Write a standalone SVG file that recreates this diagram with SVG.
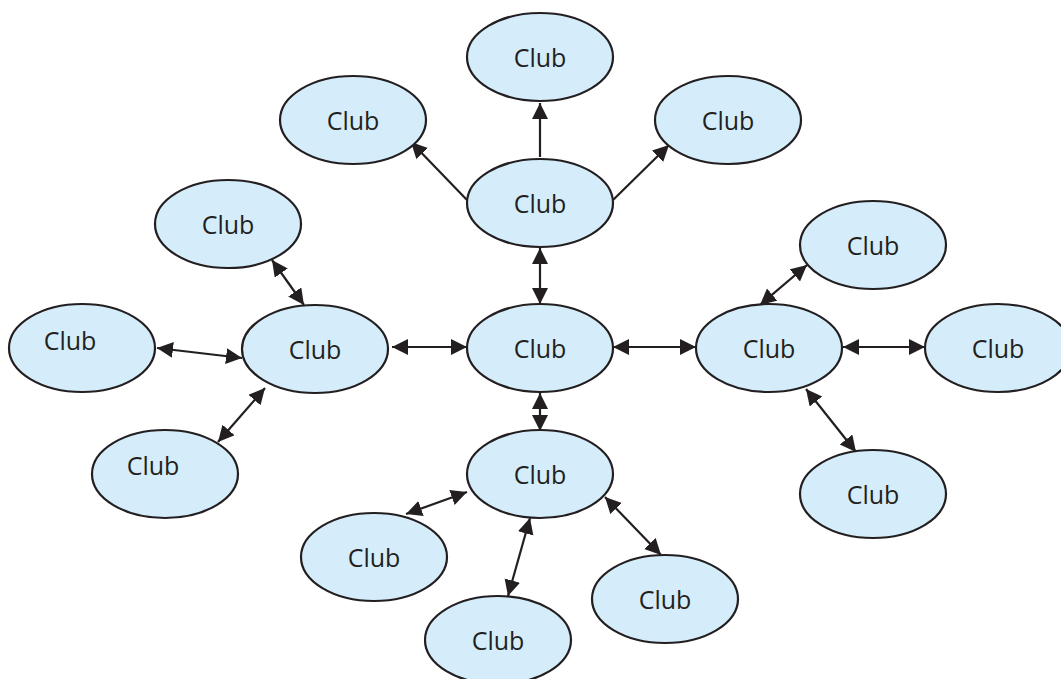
<svg xmlns="http://www.w3.org/2000/svg" width="1061" height="679" viewBox="0 0 1061 679">
<style>
.n ellipse{fill:#d5edfa;stroke:#231f20;stroke-width:2.2}
.n text{font-family:"Open Sans","Noto Sans","Liberation Sans",sans-serif;font-size:25px;fill:#231f20;text-anchor:middle}
#edges line{stroke:#231f20;stroke-width:2.2}
</style>
<defs>
<marker id="a" markerUnits="userSpaceOnUse" markerWidth="18" markerHeight="18" refX="16" refY="8" orient="auto-start-reverse">
<path d="M0,0 L16,8 L0,16 z" fill="#231f20"/>
</marker>
</defs>
<rect width="1061" height="679" fill="#fff"/>
<g id="edges">
<line x1="540" y1="157" x2="540" y2="103" marker-end="url(#a)"/>
<line x1="467" y1="200" x2="411" y2="142" marker-end="url(#a)"/>
<line x1="613" y1="200" x2="669" y2="145" marker-end="url(#a)"/>
<line x1="540" y1="248" x2="540" y2="304" marker-start="url(#a)" marker-end="url(#a)"/>
<line x1="392" y1="347" x2="467" y2="347" marker-start="url(#a)" marker-end="url(#a)"/>
<line x1="613" y1="347" x2="696" y2="347" marker-start="url(#a)" marker-end="url(#a)"/>
<line x1="540" y1="393" x2="540" y2="431" marker-start="url(#a)" marker-end="url(#a)"/>
<line x1="272" y1="260" x2="304" y2="305" marker-start="url(#a)" marker-end="url(#a)"/>
<line x1="157" y1="348" x2="242" y2="358" marker-start="url(#a)" marker-end="url(#a)"/>
<line x1="265" y1="388" x2="218" y2="442" marker-start="url(#a)" marker-end="url(#a)"/>
<line x1="807" y1="265" x2="760" y2="305" marker-start="url(#a)" marker-end="url(#a)"/>
<line x1="843" y1="347" x2="925" y2="347" marker-start="url(#a)" marker-end="url(#a)"/>
<line x1="806" y1="389" x2="856" y2="452" marker-start="url(#a)" marker-end="url(#a)"/>
<line x1="467" y1="492" x2="406" y2="514" marker-start="url(#a)" marker-end="url(#a)"/>
<line x1="530" y1="518" x2="508" y2="596" marker-start="url(#a)" marker-end="url(#a)"/>
<line x1="605" y1="497" x2="661" y2="555" marker-start="url(#a)" marker-end="url(#a)"/>
</g>
<g id="n1" class="n"><ellipse cx="540" cy="57" rx="73" ry="44"/><text x="540" y="67">Club</text></g>
<g id="n2" class="n"><ellipse cx="353" cy="120" rx="73" ry="44"/><text x="353" y="130">Club</text></g>
<g id="n3" class="n"><ellipse cx="728" cy="120" rx="73" ry="44"/><text x="728" y="130">Club</text></g>
<g id="n4" class="n"><ellipse cx="540" cy="203" rx="73" ry="44"/><text x="540" y="213">Club</text></g>
<g id="n5" class="n"><ellipse cx="540" cy="348" rx="73" ry="44"/><text x="540" y="358">Club</text></g>
<g id="n6" class="n"><ellipse cx="315" cy="349" rx="73" ry="44"/><text x="315" y="359">Club</text></g>
<g id="n7" class="n"><ellipse cx="228" cy="224" rx="73" ry="44"/><text x="228" y="234">Club</text></g>
<g id="n8" class="n"><ellipse cx="82" cy="348" rx="73" ry="44"/><text x="70" y="350">Club</text></g>
<g id="n9" class="n"><ellipse cx="165" cy="474" rx="73" ry="44"/><text x="153" y="475">Club</text></g>
<g id="n10" class="n"><ellipse cx="769" cy="348" rx="73" ry="44"/><text x="769" y="358">Club</text></g>
<g id="n11" class="n"><ellipse cx="873" cy="245" rx="73" ry="44"/><text x="873" y="255">Club</text></g>
<g id="n12" class="n"><ellipse cx="998" cy="348" rx="73" ry="44"/><text x="998" y="358">Club</text></g>
<g id="n13" class="n"><ellipse cx="873" cy="494" rx="73" ry="44"/><text x="873" y="504">Club</text></g>
<g id="n14" class="n"><ellipse cx="540" cy="474" rx="73" ry="44"/><text x="540" y="484">Club</text></g>
<g id="n15" class="n"><ellipse cx="374" cy="557" rx="73" ry="44"/><text x="374" y="567">Club</text></g>
<g id="n16" class="n"><ellipse cx="498" cy="640" rx="73" ry="44"/><text x="498" y="650">Club</text></g>
<g id="n17" class="n"><ellipse cx="665" cy="599" rx="73" ry="44"/><text x="665" y="609">Club</text></g>
</svg>
